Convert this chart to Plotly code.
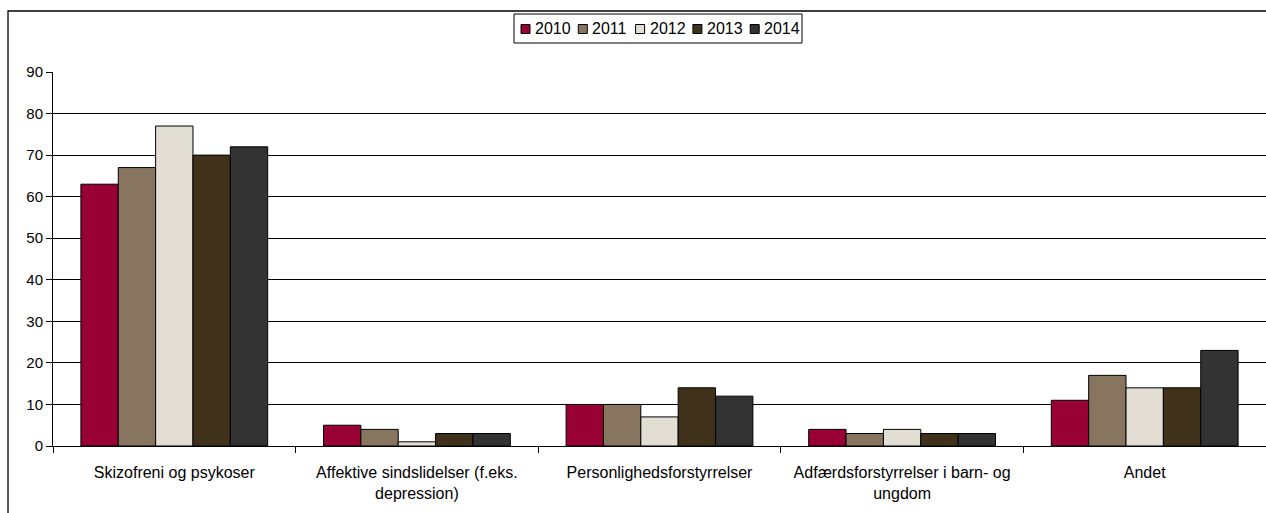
import plotly.graph_objects as go

categories = [
    "Skizofreni og psykoser",
    "Affektive sindslidelser (f.eks.<br>depression)",
    "Personlighedsforstyrrelser",
    "Adfærdsforstyrrelser i barn- og<br>ungdom",
    "Andet",
]
years = ["2010", "2011", "2012", "2013", "2014"]
values = {
    "2010": [63, 5, 10, 4, 11],
    "2011": [67, 4, 10, 3, 17],
    "2012": [77, 1, 7, 4, 14],
    "2013": [70, 3, 14, 3, 14],
    "2014": [72, 3, 12, 3, 23],
}
colors = ["#990033", "#87755F", "#E2DED3", "#40321A", "#333333"]
y_ticks = [0, 10, 20, 30, 40, 50, 60, 70, 80, 90]

FONT = "Liberation Sans, Arial, sans-serif"

fig = go.Figure()
for yr, col in zip(years, colors):
    fig.add_trace(go.Bar(
        name=yr, x=categories, y=values[yr],
        marker=dict(color=col, line=dict(color="#000000", width=1)),
        showlegend=False,
    ))

W, H = 1266, 513
ml, mr, mt, mb = 53, 0, 72, 67
pw, ph = W - ml - mr, H - mt - mb


def px(xp):
    return (xp - ml) / pw


def py(yp):
    return (H - mb - yp) / ph


shapes = [dict(
    type="rect", xref="paper", yref="paper",
    x0=px(8), x1=px(1290), y0=py(530), y1=py(11),
    line=dict(color="#000000", width=1.3), fillcolor="rgba(0,0,0,0)", layer="below",
)]
annotations = []

# custom compact legend
lg_x0, lg_x1, lg_y0, lg_y1 = 514, 802, 14, 43
shapes.append(dict(
    type="rect", xref="paper", yref="paper",
    x0=px(lg_x0), x1=px(lg_x1), y0=py(lg_y1), y1=py(lg_y0),
    line=dict(color="#000000", width=1), fillcolor="white",
))
sym0, step, sym = 521, 57.3, 9
ymid = (lg_y0 + lg_y1) / 2 + 0.5
for i, (yr, col) in enumerate(zip(years, colors)):
    sx = sym0 + i * step
    shapes.append(dict(
        type="rect", xref="paper", yref="paper",
        x0=px(sx), x1=px(sx + sym), y0=py(ymid + sym / 2), y1=py(ymid - sym / 2),
        line=dict(color="#000000", width=1), fillcolor=col,
    ))
    annotations.append(dict(
        text=yr, xref="paper", yref="paper", x=px(sx + sym + 3), y=py(ymid),
        xanchor="left", yanchor="middle", showarrow=False,
        font=dict(family=FONT, size=16, color="#000000"),
    ))

fig.update_layout(
    width=W, height=H,
    margin=dict(l=ml, r=mr, t=mt, b=mb, autoexpand=False),
    barmode="group", bargap=0.23, bargroupgap=0,
    plot_bgcolor="white", paper_bgcolor="white",
    font=dict(family=FONT, size=14, color="#000000"),
    showlegend=False,
    xaxis=dict(
        showgrid=False, showline=True, linecolor="#000000", linewidth=1,
        ticks="outside", ticklen=6, tickcolor="#000000", tickson="boundaries",
        tickfont=dict(size=16), ticklabelstandoff=12, automargin=False,
    ),
    yaxis=dict(
        range=[0, 90], tickvals=y_ticks, showgrid=True, gridcolor="#000000", gridwidth=1,
        showline=True, linecolor="#000000", linewidth=1,
        ticks="outside", ticklen=6, tickcolor="#000000",
        tickfont=dict(size=15), zeroline=False, automargin=False,
    ),
    shapes=shapes,
    annotations=annotations,
)

fig.write_html(
    "out.html",
    config={"displayModeBar": False},
    post_script="document.body.style.margin='0';document.body.style.overflow='hidden';",
)
